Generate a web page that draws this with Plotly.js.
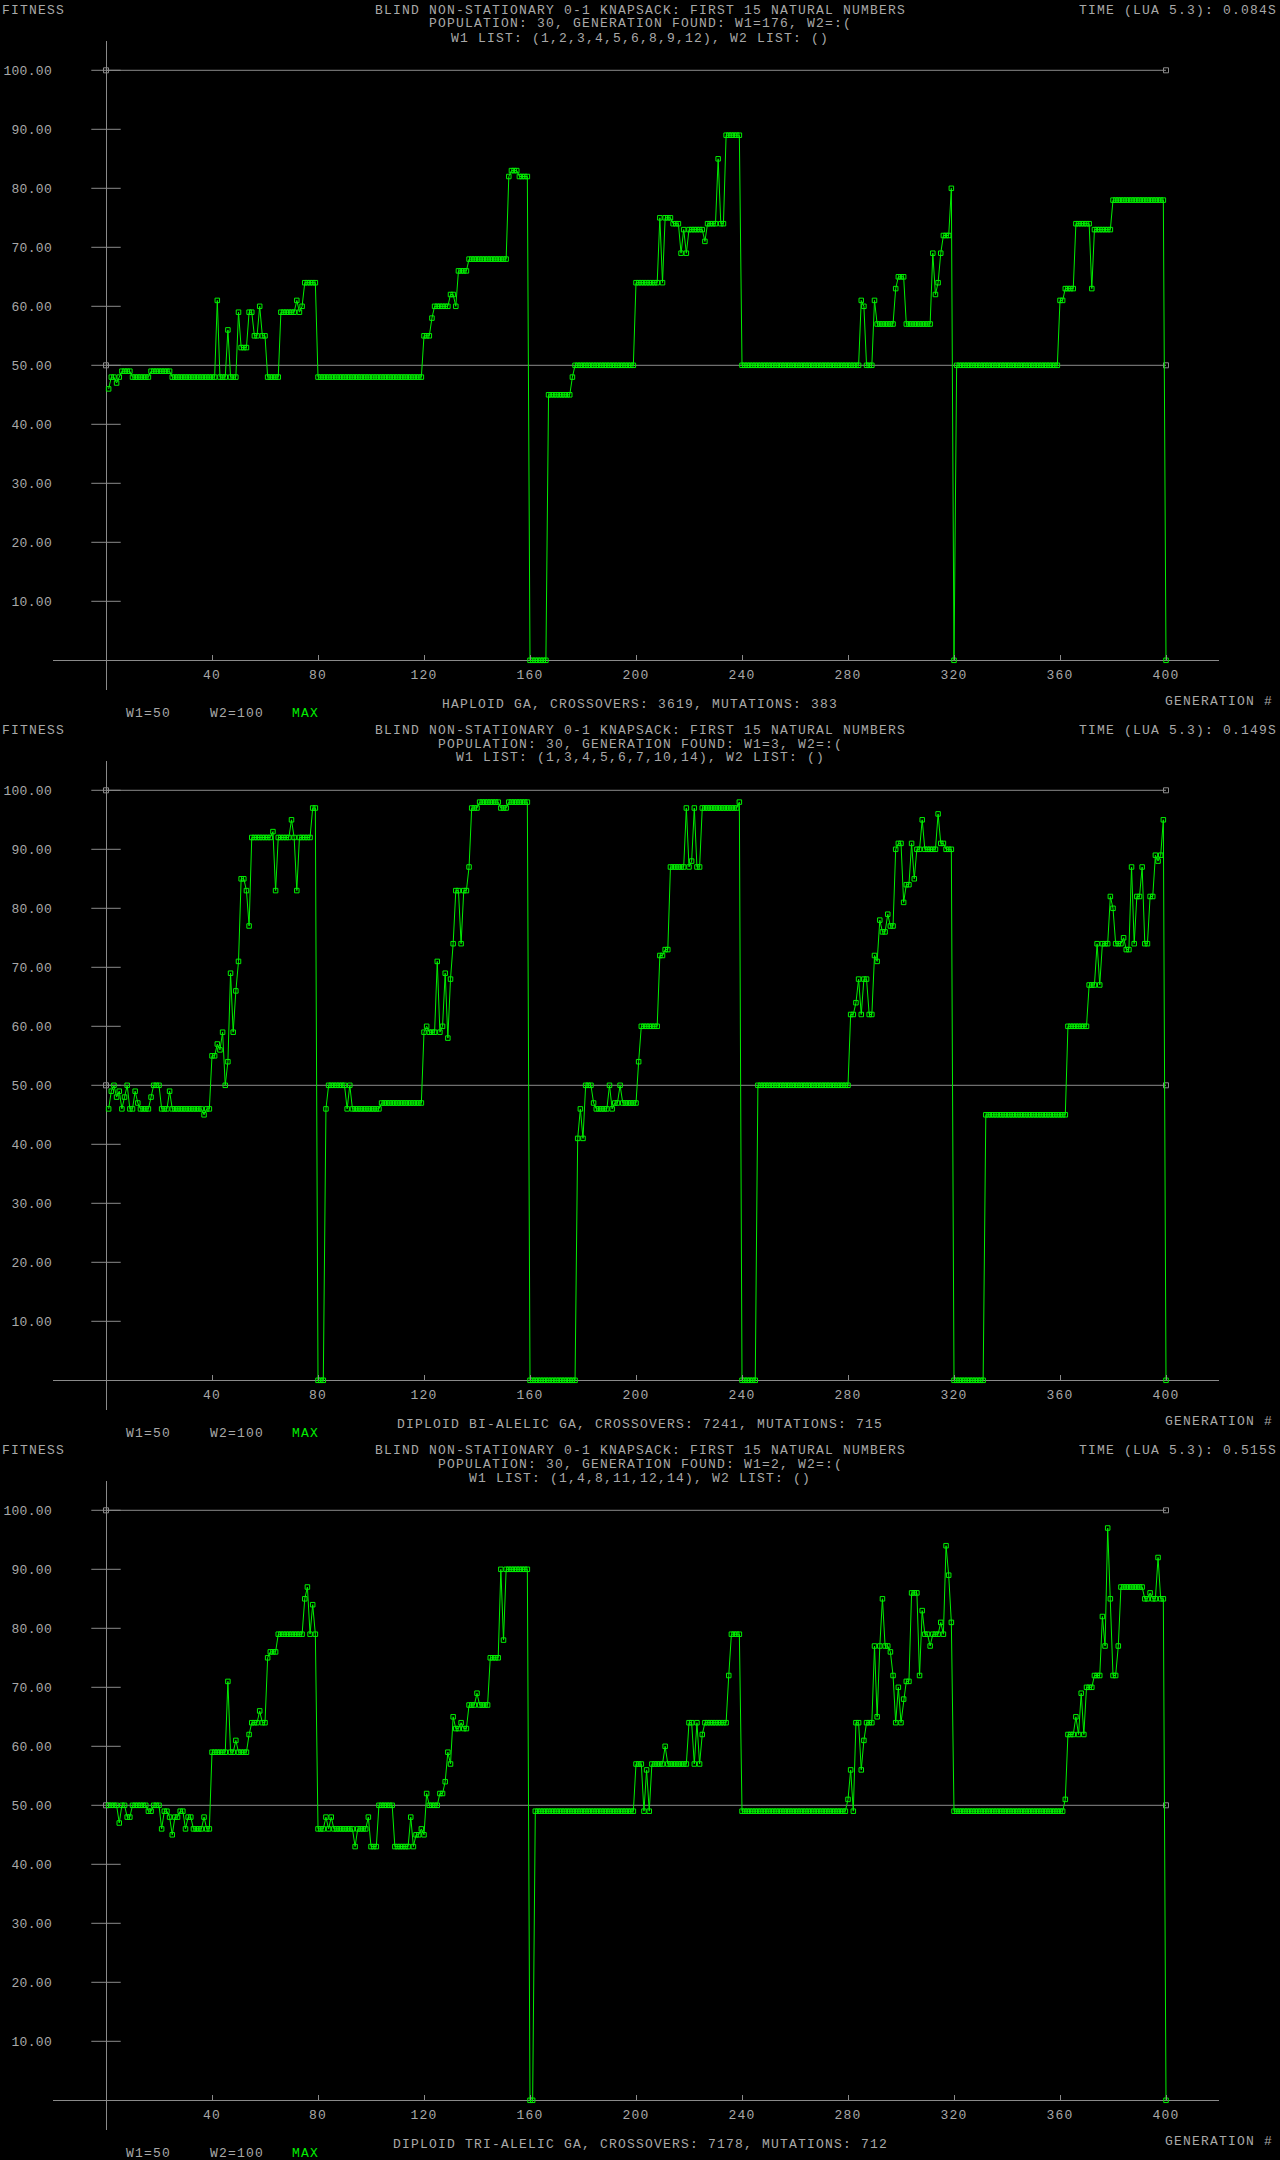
<!DOCTYPE html>
<html><head><meta charset="utf-8">
<script src="https://cdn.plot.ly/plotly-3.0.1.min.js"></script>
<style>
html,body{margin:0;padding:0;background:#000;}
#chart{width:1280px;height:2160px;}
svg text{letter-spacing:1.2px;}
svg .ytick text, svg .y2tick text, svg .y3tick text{letter-spacing:0.3px;}
</style>
</head><body><div id="chart"></div>
<script>
// ---------- data ----------
const xTickVals = [40, 80, 120, 160, 200, 240, 280, 320, 360, 400];
const yTickVals = [10, 20, 30, 40, 50, 60, 70, 80, 90, 100];
const W1 = 50, W2 = 100;
const GEN_FIRST = 1, GEN_LAST = 400;

const titleLine = "BLIND NON-STATIONARY 0-1 KNAPSACK: FIRST 15 NATURAL NUMBERS";
const populationLines = [
  "POPULATION: 30, GENERATION FOUND: W1=176, W2=:(",
  "POPULATION: 30, GENERATION FOUND: W1=3, W2=:(",
  "POPULATION: 30, GENERATION FOUND: W1=2, W2=:("
];
const listLines = [
  "W1 LIST: (1,2,3,4,5,6,8,9,12), W2 LIST: ()",
  "W1 LIST: (1,3,4,5,6,7,10,14), W2 LIST: ()",
  "W1 LIST: (1,4,8,11,12,14), W2 LIST: ()"
];
const timeLabels = ["TIME (LUA 5.3): 0.084S", "TIME (LUA 5.3): 0.149S", "TIME (LUA 5.3): 0.515S"];
const footerLabels = [
  "HAPLOID GA, CROSSOVERS: 3619, MUTATIONS: 383",
  "DIPLOID BI-ALELIC GA, CROSSOVERS: 7241, MUTATIONS: 715",
  "DIPLOID TRI-ALELIC GA, CROSSOVERS: 7178, MUTATIONS: 712"
];

// MAX fitness per generation, stored as runs: generation where a value starts, and that value
const haploidRunStart = [1,2,4,5,6,10,17,25,42,43,46,47,50,51,54,56,58,59,61,66,72,73,74,75,80,120,123,124,130,132,133,137,152,153,156,160,167,176,177,200,209,210,211,214,217,218,219,220,226,227,231,232,234,240,285,286,287,290,291,298,299,302,312,313,314,315,316,319,320,321,360,362,366,372,373,380,400];
const haploidRunValue = [46,48,47,48,49,48,49,48,61,48,56,48,59,53,59,55,60,55,48,59,61,59,60,64,48,55,58,60,62,60,66,68,82,83,82,0,45,48,50,64,75,64,75,74,69,73,69,73,71,74,85,74,89,50,61,60,50,61,57,63,65,57,69,62,64,69,72,80,0,50,61,63,74,63,73,78,0];

const biRunStart = [1,2,3,4,5,6,7,8,9,11,12,13,17,18,21,24,25,37,38,40,42,43,44,45,46,47,48,49,50,51,53,54,55,63,64,65,70,71,72,73,78,80,83,84,91,92,93,104,120,121,122,125,126,127,128,129,130,131,132,134,135,137,138,141,149,152,160,178,179,180,181,184,185,190,191,192,194,195,201,202,209,211,213,219,220,221,222,223,225,239,240,246,281,283,284,285,286,288,290,291,292,293,295,296,298,299,301,302,304,305,306,308,309,314,315,317,320,332,363,371,374,375,376,379,380,381,384,385,387,388,389,391,392,394,396,397,398,399,400];
const biRunValue = [46,49,50,48,49,46,48,50,46,49,47,46,48,50,46,49,46,45,46,55,57,56,59,50,54,69,59,66,71,85,83,77,92,93,83,92,95,92,83,92,97,0,46,50,46,50,46,47,59,60,59,71,59,60,69,58,68,74,83,74,83,87,97,98,97,98,0,41,46,41,50,47,46,50,46,47,50,47,54,60,72,73,87,97,87,88,97,87,97,98,0,50,62,64,68,62,68,62,72,71,78,76,79,77,90,91,81,84,91,85,90,95,90,96,91,90,0,45,60,67,74,67,74,82,80,74,75,73,87,74,82,87,74,82,89,88,89,95,0];

const triRunStart = [1,5,6,8,10,16,18,21,22,24,25,26,28,30,31,33,37,38,40,46,47,49,50,54,55,58,59,61,62,65,75,76,77,78,79,80,83,84,85,86,94,95,99,100,103,109,115,116,117,119,120,121,122,126,128,129,130,131,132,134,135,137,140,141,145,149,150,151,160,162,200,203,204,205,206,211,212,220,222,223,224,225,226,235,236,240,280,281,282,283,285,286,287,290,291,292,293,294,296,297,298,299,300,301,302,304,307,308,309,311,312,315,316,317,318,319,320,362,363,366,367,368,369,370,373,376,377,378,379,380,382,383,392,394,395,397,398,400];
const triRunValue = [50,47,50,48,50,49,50,46,49,48,45,48,49,46,48,46,48,46,59,71,59,61,59,62,64,66,64,75,76,79,85,87,79,84,79,46,48,46,48,46,43,46,48,43,50,43,48,43,45,46,45,52,50,52,54,59,57,65,63,64,63,67,69,67,75,90,78,90,0,49,57,49,56,49,57,60,57,64,57,64,57,62,64,72,79,49,51,56,49,64,56,61,64,77,65,77,85,77,76,72,64,70,64,68,71,86,72,83,79,77,79,81,79,94,89,81,49,51,62,65,62,69,62,70,72,82,77,97,85,72,77,87,85,86,85,92,85,0];

const panels = [
  {starts: haploidRunStart, values: haploidRunValue},
  {starts: biRunStart, values: biRunValue},
  {starts: triRunStart, values: triRunValue}
];

// ---------- styling ----------
const WPX = 1280, HPX = 2160, PANEL_H = 720;
const FONT = '"Liberation Mono", "DejaVu Sans Mono", monospace';
const TEXT = '#a8a8a8', AXIS = '#8a8a8a', GREEN = '#00ee00';

function expandRuns(starts, values, first, last) {
  const x = [], y = [];
  let r = 0;
  for (let g = first; g <= last; g++) {
    while (r + 1 < starts.length && starts[r + 1] <= g) r++;
    x.push(g); y.push(values[r]);
  }
  return {x, y};
}
function ann(text, xpx, ypx, xanchor, color) {
  return {text, x: xpx / WPX, y: 1 - ypx / HPX, xref: 'paper', yref: 'paper',
    xanchor, yanchor: 'middle', showarrow: false,
    font: {family: FONT, size: 13, color: color || TEXT}};
}

const traces = [], annotations = [];
const layout = {
  width: WPX, height: HPX, autosize: false,
  margin: {l: 0, r: 0, t: 0, b: 0, pad: 0},
  paper_bgcolor: '#000', plot_bgcolor: '#000',
  showlegend: false, annotations
};

panels.forEach((p, k) => {
  const o = PANEL_H * k;
  const xa = k ? 'x' + (k + 1) : 'x', ya = k ? 'y' + (k + 1) : 'y';
  const xname = k ? 'xaxis' + (k + 1) : 'xaxis', yname = k ? 'yaxis' + (k + 1) : 'yaxis';
  const top = 40.8 + o, bottom = 689.8 + o, zero = 660.3 + o;
  layout[xname] = {
    domain: [53 / WPX, 1219 / WPX], range: [-20, 420],
    anchor: 'free', position: 1 - zero / HPX,
    showgrid: false, showline: false,
    zeroline: true, zerolinecolor: AXIS, zerolinewidth: 1,
    tickmode: 'array', tickvals: xTickVals, ticktext: xTickVals.map(String),
    ticks: 'inside', ticklen: 5, tickwidth: 1, tickcolor: AXIS,
    ticklabelstandoff: 5,
    tickfont: {family: FONT, size: 13, color: TEXT}, fixedrange: true
  };
  layout[yname] = {
    domain: [1 - bottom / HPX, 1 - top / HPX], range: [-5, 105], anchor: xa,
    showgrid: false, showline: false,
    zeroline: true, zerolinecolor: AXIS, zerolinewidth: 1,
    tickmode: 'array', tickvals: yTickVals, ticktext: yTickVals.map(v => v.toFixed(2)),
    ticks: '', ticklabelstandoff: 0,
    tickfont: {family: FONT, size: 13, color: TEXT}, fixedrange: true
  };

  // W1 / W2 reference lines
  [W1, W2].forEach(w => traces.push({
    type: 'scatter', mode: 'lines+markers', xaxis: xa, yaxis: ya,
    x: [0, GEN_LAST], y: [w, w],
    line: {color: AXIS, width: 1},
    marker: {symbol: 'square-open', size: 5, color: AXIS, line: {color: AXIS, width: 1}},
    hoverinfo: 'skip'
  }));
  // y tick marks crossing the vertical axis
  traces.push({
    type: 'scatter', mode: 'markers', xaxis: xa, yaxis: ya,
    x: yTickVals.map(() => 0), y: yTickVals,
    marker: {symbol: 'line-ew', size: 21, color: AXIS, line: {color: AXIS, width: 1}},
    hoverinfo: 'skip'
  });
  // MAX series
  const s = expandRuns(p.starts, p.values, GEN_FIRST, GEN_LAST);
  traces.push({
    type: 'scatter', mode: 'lines+markers', xaxis: xa, yaxis: ya,
    x: s.x, y: s.y,
    line: {color: GREEN, width: 1},
    marker: {symbol: 'square-open', size: 4.5, color: GREEN, line: {color: GREEN, width: 1}},
    hoverinfo: 'skip'
  });

  annotations.push(
    ann('FITNESS', 0, 10 + o, 'left'),
    ann(titleLine, 640, 10 + o, 'center'),
    ann(populationLines[k], 640, 24 + o, 'center'),
    ann(listLines[k], 640, 38 + o, 'center'),
    ann(timeLabels[k], 1279, 10 + o, 'right'),
    ann(footerLabels[k], 640, 704 + o, 'center'),
    ann('GENERATION #', 1275, 701 + o, 'right'),
    ann('W1=' + W1, 124, 713 + o, 'left'),
    ann('W2=' + W2, 208, 713 + o, 'left'),
    ann('MAX', 290, 713 + o, 'left', GREEN)
  );
});

Plotly.newPlot('chart', traces, layout, {staticPlot: true, displayModeBar: false});
</script>
</body></html>
